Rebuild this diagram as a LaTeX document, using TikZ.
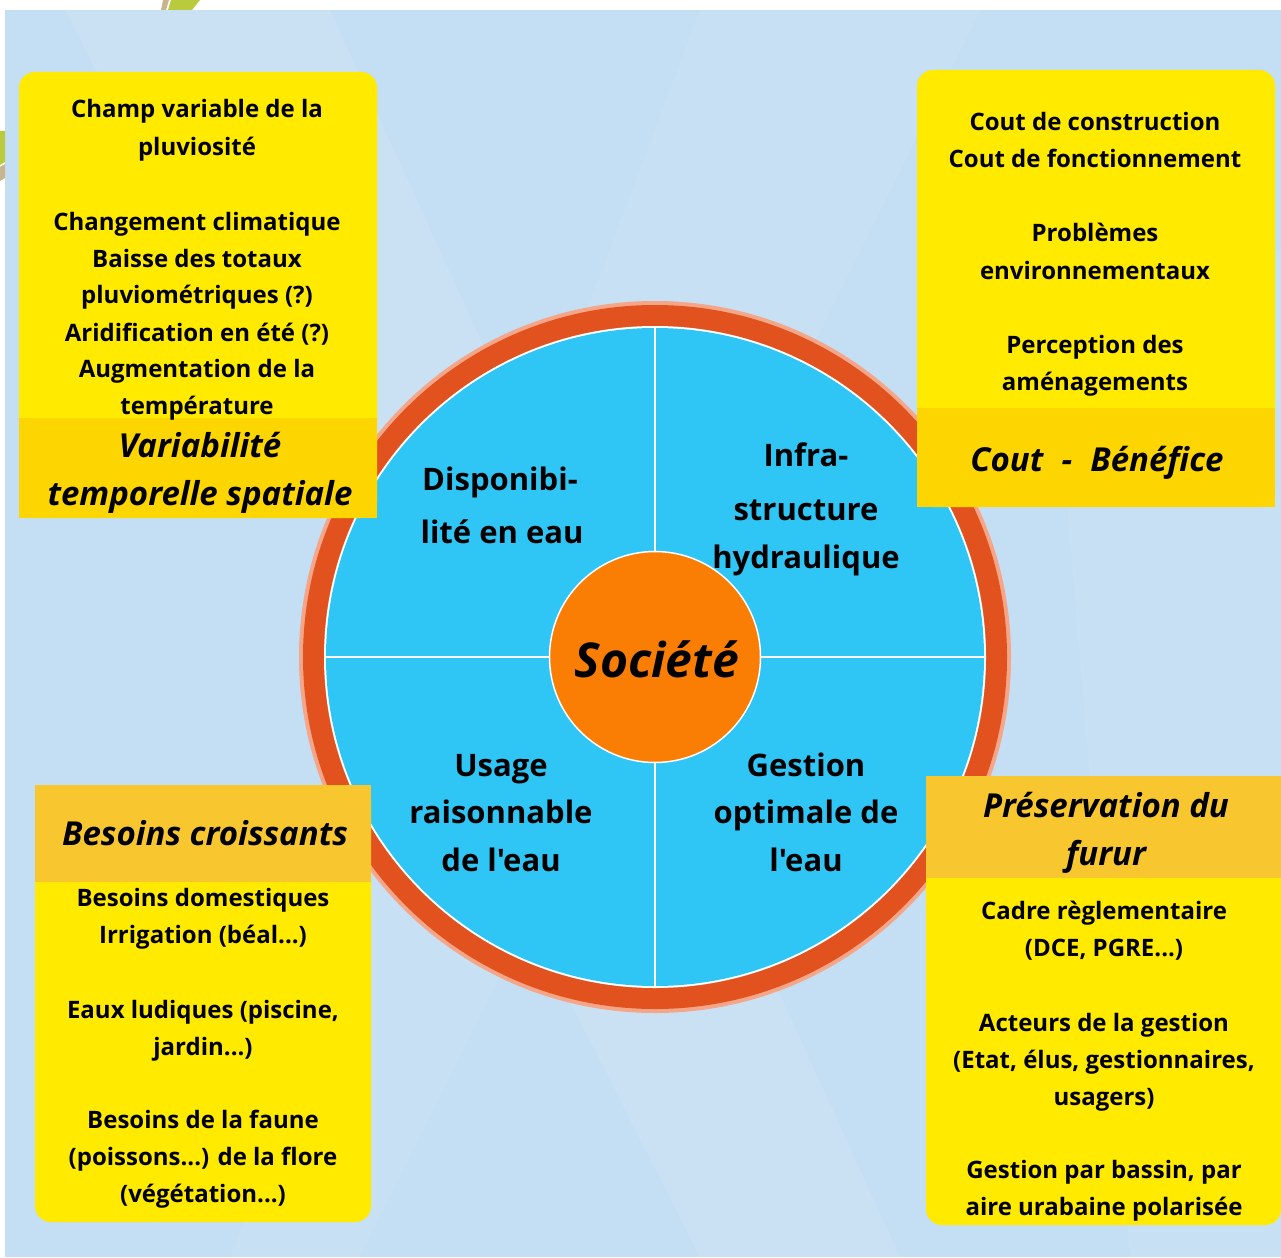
\documentclass[tikz,border=0pt]{standalone}
\usepackage{fontspec}
\setmainfont{Open Sans}[Ligatures=TeXOff]
\definecolor{bgblue}{HTML}{C4DEF3}
\definecolor{ringred}{HTML}{E2521F}
\definecolor{ringlight}{HTML}{F5A688}
\definecolor{diskblue}{HTML}{2FC5F4}
\definecolor{centerorange}{HTML}{FB7E04}
\definecolor{lightyel}{HTML}{FFEA00}
\definecolor{headyel}{HTML}{FDD500}
\definecolor{headorange}{HTML}{F8C72F}
\definecolor{leafgreen}{HTML}{B9CB3C}
\definecolor{leaftan}{HTML}{C8B48E}
\tikzset{
  body/.style={anchor=base, inner sep=0, font=\fontsize{24}{30}\selectfont\bfseries},
  head/.style={anchor=base, inner sep=0, font=\fontsize{33}{40}\selectfont\bfseries\itshape},
  quad/.style={anchor=base, inner sep=0, font=\fontsize{31}{40}\selectfont\bfseries},
  soc/.style={anchor=base, inner sep=0, font=\fontsize{48}{52}\selectfont\bfseries\itshape},
}
\begin{document}
\begin{tikzpicture}[x=1pt,y=-1pt]
\useasboundingbox (0,0) rectangle (1281,1257);
% background
\fill[white] (0,0) rectangle (1281,1257);
\fill[bgblue] (5,10) rectangle (1281,1257);
\begin{scope}
\clip (5,10) rectangle (1281,1257);
\fill[white,opacity=0.10] (65,10) -- (330,10) -- (900,1257) -- (700,1257) -- cycle;
\fill[white,opacity=0.08] (700,10) -- (980,10) -- (360,1257) -- (230,1257) -- cycle;
\fill[white,opacity=0.08] (1050,300) -- (1281,250) -- (1281,1257) -- (1130,1257) -- cycle;
\end{scope}
% leaf fragments
\fill[leaftan] (163,0) -- (169,0) -- (166,10) -- (161,10) -- cycle;
\fill[leafgreen] (171,0) -- (200,0) -- (192,10) -- (168,10) -- cycle;
\fill[leafgreen] (0,131) -- (5,131) -- (5,162) -- (0,165) -- cycle;
\fill[leaftan] (0,167) -- (5,164) -- (5,178) -- (0,181) -- cycle;

% ring and disk
\fill[ringlight] (655,657) circle (356);
\fill[ringred] (655,657) circle (352);
\fill[white] (655,657) circle (331);
\fill[diskblue] (655,657) circle (329);
\draw[white, line width=1.5] (655,328) -- (655,986);
\draw[white, line width=1.5] (326,657) -- (984,657);
\node[circle, fill=centerorange, draw=white, line width=1.5, minimum size=211, inner sep=0] (center) at (655,657) {};
\node[soc] (societe) at (657,677) {Société};

% quadrant texts
\node[quad] (q1a) at (500,490) {Disponibi-};
\node[quad] (q1b) at (502,543) {lité en eau};
\node[quad] (q2a) at (806,466) {Infra-};
\node[quad] (q2b) at (806,520) {structure};
\node[quad] (q2c) at (806,568) {hydraulique};
\node[quad] (q3a) at (501,776) {Usage};
\node[quad] (q3b) at (501,823) {raisonnable};
\node[quad] (q3c) at (501,871) {de l'eau};
\node[quad] (q4a) at (806,776) {Gestion};
\node[quad] (q4b) at (806,823) {optimale de};
\node[quad] (q4c) at (806,871) {l'eau};

% top-left box
\fill[lightyel, rounded corners=16] (19,72) rectangle (377,518);
\fill[headyel] (19,418) rectangle (377,518);
\foreach \yy/\tt [count=\i] in {118/{Champ variable de la},156/{pluviosité},230/{Changement climatique},267/{Baisse des totaux},303/{pluviométriques (?)},341/{Aridification en été (?)},377/{Augmentation de la},414/{température}}
  \node[body] (tl\i) at (197,\yy) {\tt};
\node[head] (tlh1) at (200,457) {Variabilité};
\node[head] (tlh2) at (200,505) {temporelle spatiale};

% top-right box
\fill[lightyel, rounded corners=16] (917,70) rectangle (1275,507);
\fill[headyel] (917,408) rectangle (1275,507);
\foreach \yy/\tt [count=\i] in {131/{Cout de construction},168/{Cout de fonctionnement},242/{Problèmes},279/{environnementaux},353/{Perception des},390/{aménagements}}
  \node[body] (tr\i) at (1095,\yy) {\tt};
\node[head] (trh1) at (1097,471) {Cout\hspace{0.55em}-\hspace{0.55em}Bénéfice};

% bottom-left box
\fill[lightyel, rounded corners=16] (35,785) rectangle (371,1222);
\fill[headorange] (35,785) rectangle (371,882);
\node[head] (blh1) at (205,845) {Besoins croissants};
\foreach \yy/\tt [count=\i] in {906/{Besoins domestiques},943/{Irrigation (béal...)},1018/{Eaux ludiques (piscine,},1055/{jardin...)},1128/{Besoins de la faune},1165/{(poissons...) de la flore},1202/{(végétation...)}}
  \node[body] (bl\i) at (203,\yy) {\tt};

% bottom-right box
\fill[lightyel, rounded corners=16] (926,776) rectangle (1281,1225);
\fill[headorange] (926,776) rectangle (1281,878);
\node[head] (brh1) at (1106,817) {Préservation du};
\node[head] (brh2) at (1106,865) {furur};
\foreach \yy/\tt [count=\i] in {919/{Cadre règlementaire},956/{(DCE, PGRE...)},1031/{Acteurs de la gestion},1068/{(Etat, élus, gestionnaires,},1105/{usagers)},1178/{Gestion par bassin, par},1215/{aire urabaine polarisée}}
  \node[body] (br\i) at (1104,\yy) {\tt};
\end{tikzpicture}
\end{document}
